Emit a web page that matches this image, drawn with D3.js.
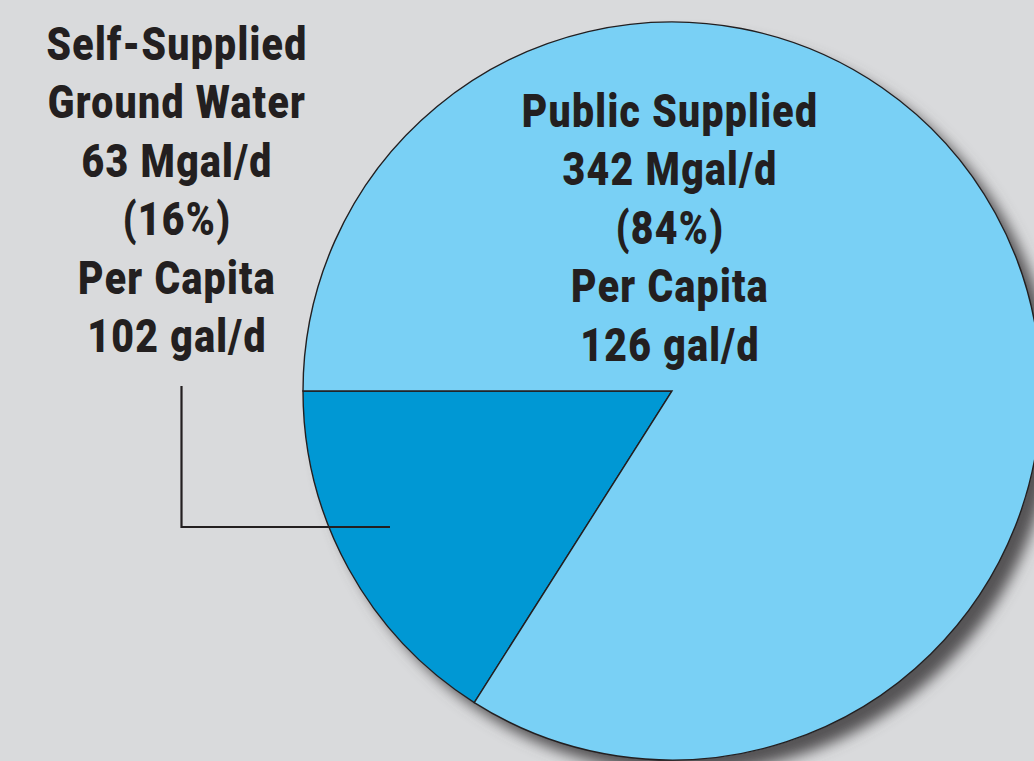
<!DOCTYPE html>
<html>
<head>
<meta charset="utf-8">
<script src="https://cdn.jsdelivr.net/npm/d3@7"></script>
<style>
  html, body { margin: 0; padding: 0; background: #d9dadc; }
  svg text { font-family: Roboto, "Liberation Sans", sans-serif; font-weight: 900; letter-spacing: 1.5px; fill: #231f20; }
</style>
</head>
<body>
<script>
// data
var sources = ["Self-Supplied Ground Water", "Public Supplied"];
var withdrawals = [63, 342];      // Mgal/d
var shares = [16, 84];            // percent
var perCapita = [102, 126];       // gal/d
var colors = ["#0098d4", "#79d0f5"];

var width = 1034, height = 761;
var cx = 672, cy = 391, radius = 369;
var fontSize = 46, lineGap = 58.5;

var svg = d3.select("body").append("svg")
  .attr("width", width)
  .attr("height", height);

svg.append("rect").attr("width", width).attr("height", height).attr("fill", "#d9dadc");

var defs = svg.append("defs");
var f = defs.append("filter").attr("id", "shadow")
  .attr("x", "-10%").attr("y", "-10%").attr("width", "130%").attr("height", "130%");
f.append("feDropShadow")
  .attr("dx", 13).attr("dy", 13).attr("stdDeviation", 7)
  .attr("flood-color", "#555354").attr("flood-opacity", 1);

var data = sources.map(function(s, i) {
  return { name: s, mgal: withdrawals[i], pct: shares[i], cap: perCapita[i] };
});

// self-supplied slice ends on the horizontal line to the left of centre
var selfAngle = shares[0] / d3.sum(shares) * 2 * Math.PI;
var start = 1.5 * Math.PI - selfAngle;

var pie = d3.pie().sort(null).value(d => d.pct)
  .startAngle(start).endAngle(start + 2 * Math.PI);

var arc = d3.arc().innerRadius(0).outerRadius(radius);

var g = svg.append("g").attr("transform", "translate(" + cx + "," + cy + ")");

// shadow disc
g.append("circle").attr("r", radius).attr("fill", "#79d0f5")
  .attr("filter", "url(#shadow)");

g.selectAll("path.slice")
  .data(pie(data)).enter()
  .append("path")
  .attr("class", "slice")
  .attr("d", arc)
  .attr("fill", (d, i) => colors[i])
  .attr("stroke", "#231f20")
  .attr("stroke-width", 1.4)
  .attr("stroke-linejoin", "miter");

// labels
function labelLines(d) {
  var nameLines = d.name === "Self-Supplied Ground Water"
    ? ["Self-Supplied", "Ground Water"] : [d.name];
  return nameLines.concat([
    d.mgal + " Mgal/d",
    "(" + d.pct + "%)",
    "Per Capita",
    d.cap + " gal/d"
  ]);
}

var labelPos = [ { x: 177, y: 60 }, { x: 670, y: 127 } ];

// narrow the font to match the condensed face of the original
var probe = svg.append("text").attr("font-size", fontSize).text("Self-Supplied");
var sx = 261 / probe.node().getComputedTextLength();
probe.remove();

data.forEach(function(d, i) {
  var t = svg.append("g")
    .attr("transform", "translate(" + labelPos[i].x + ",0) scale(" + sx + ",1)")
    .append("text")
    .attr("text-anchor", "middle")
    .attr("font-size", fontSize);
  labelLines(d).forEach(function(line, j) {
    t.append("tspan")
      .attr("x", 0)
      .attr("y", labelPos[i].y + j * lineGap)
      .text(line);
  });
});

// leader line from the left label into the dark slice
svg.append("path")
  .attr("d", d3.line()([[181.5, 386], [181.5, 527], [390, 527]]))
  .attr("fill", "none")
  .attr("stroke", "#231f20")
  .attr("stroke-width", 2.2);
</script>
</body>
</html>
